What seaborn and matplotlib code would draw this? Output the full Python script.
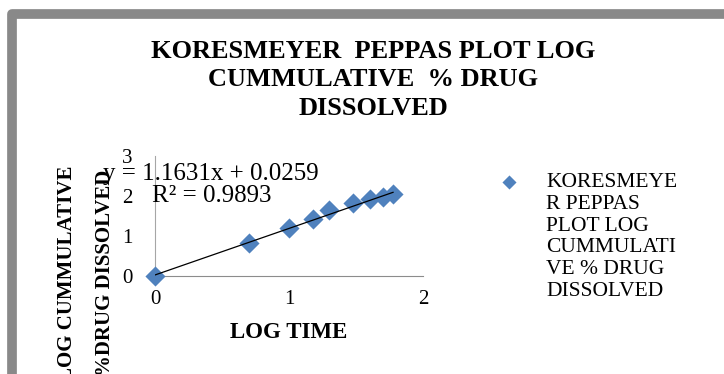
import matplotlib
matplotlib.use("Agg")
import matplotlib.pyplot as plt
import seaborn as sns
import pandas as pd
from matplotlib.patches import Rectangle

# Korsmeyer-Peppas data: log time vs log cumulative % drug dissolved
log_time = [0.0, 0.699, 1.0, 1.176, 1.301, 1.477, 1.602, 1.699, 1.778]
log_cum_release = [0.0, 0.82, 1.19, 1.42, 1.66, 1.82, 1.92, 1.97, 2.06]

# Linear trendline reported for the series
slope = 1.1631
intercept = 0.0259
r_squared = 0.9893

x_ticks = [0, 1, 2]
y_ticks = [0, 1, 2, 3]

title = "KORESMEYER  PEPPAS PLOT LOG\nCUMMULATIVE  % DRUG\nDISSOLVED"
series_label = "KORESMEYE\nR PEPPAS\nPLOT LOG\nCUMMULATI\nVE % DRUG\nDISSOLVED"
x_label = "LOG TIME"
y_label = "LOG CUMMULATIVE\n%DRUG DISSOLVED"

sns.set_theme(style="white")
plt.rcParams["font.family"] = ["Liberation Serif", "DejaVu Serif"]
plt.rcParams["text.color"] = "black"
plt.rcParams["axes.labelcolor"] = "black"
plt.rcParams["xtick.color"] = "black"
plt.rcParams["ytick.color"] = "black"

W, H = 724, 374
fig = plt.figure(figsize=(W / 100, H / 100), dpi=100)
fig.patch.set_facecolor("white")


def fx(px):
    return px / W


def fy(py):
    return 1 - py / H


# grey chart-area border (runs past the right and bottom edges)
fig.patches.append(Rectangle((fx(12), fy(430)), fx(800), fy(13.5) - fy(430),
                             transform=fig.transFigure, fill=False,
                             edgecolor="#898989", linewidth=7.0,
                             joinstyle="round", zorder=0))

ax = fig.add_axes([fx(155), fy(276), 268 / W, 120 / H])
ax.set_facecolor("none")

df = pd.DataFrame({"log_time": log_time, "log_cum": log_cum_release})
sns.scatterplot(data=df, x="log_time", y="log_cum", marker="D", s=105,
                color="#4F81BD", linewidth=0, ax=ax, label=series_label,
                clip_on=False, zorder=3)

fit_x = [0.0, max(log_time)]
fit_y = [intercept + slope * v for v in fit_x]
sns.lineplot(x=fit_x, y=fit_y, color="black", linewidth=0.9, ax=ax,
             legend=False, zorder=4)

ax.text(0.42, 2.275,
        f"y = {slope:.4f}x + {intercept:.4f}\nR\u00b2 = {r_squared:.4f}",
        ha="center", va="center", fontsize=18, linespacing=0.95, zorder=5)

ax.set_xlim(0, 2)
ax.set_ylim(0, 3)
ax.set_xticks(x_ticks)
ax.set_yticks(y_ticks)
ax.tick_params(length=0, labelsize=15, colors="black")
ax.tick_params(axis="y", pad=16)
ax.tick_params(axis="x", pad=10)
for side in ["top", "right"]:
    ax.spines[side].set_visible(False)
ax.spines["left"].set_color("#a6a6a6")
ax.spines["left"].set_linewidth(0.8)
ax.spines["bottom"].set_color("#8c8c8c")
ax.spines["bottom"].set_linewidth(0.8)

ax.set_xlabel(x_label, fontsize=16.5, fontweight="bold")
ax.xaxis.label.set_va("center")
ax.xaxis.set_label_coords(0.5, -0.475)

ax.set_ylabel(y_label, fontsize=15, fontweight="bold", linespacing=2.2)
yl = ax.yaxis.label
yl.set_rotation_mode("default")
yl.set_va("top")
yl.set_ha("center")
ax.yaxis.set_label_coords(-0.258, 0.92)

fig.suptitle(title, x=fx(373), y=fy(40), ha="center", va="top",
             fontsize=19, fontweight="bold", linespacing=1.3)

leg = ax.legend(loc="upper left", bbox_to_anchor=(fx(498), fy(173)),
                bbox_transform=fig.transFigure, frameon=False, fontsize=15.5,
                handlelength=1.0, handletextpad=1.25, borderpad=0,
                borderaxespad=0, markerscale=0.7)
for col in leg._legend_handle_box.get_children():
    for item in col.get_children():
        item.align = "top"
leg.get_texts()[0].set_linespacing(1.2)

fig.savefig("out.png", dpi=100)
